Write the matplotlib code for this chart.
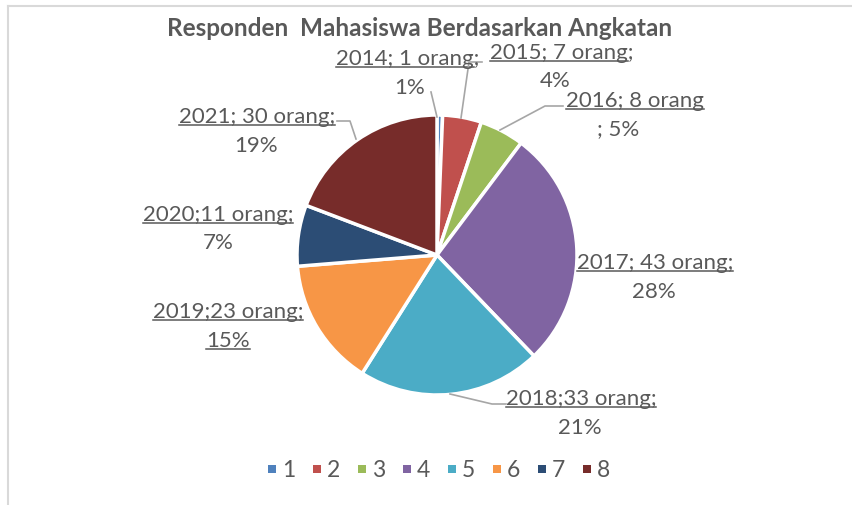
import matplotlib.pyplot as plt
from matplotlib.lines import Line2D
from matplotlib.patches import Rectangle

# data
years = ['2014', '2015', '2016', '2017', '2018', '2019', '2020', '2021']
counts = [1, 7, 8, 43, 33, 23, 11, 30]
legend_labels = ['1', '2', '3', '4', '5', '6', '7', '8']
colors = ['#4F81BD', '#C0504D', '#9BBB59', '#8064A2',
          '#4BACC6', '#F79646', '#2C4D75', '#772C2A']

W, H = 852, 506
txt_color = '#595959'
line_color = '#A6A6A6'
plt.rcParams['font.family'] = ['Lato', 'DejaVu Sans']

fig = plt.figure(figsize=(W / 100, H / 100), dpi=100)

# pie axes: centre (437, 256) px, radius 140 px
cx, cy, r = 437, 256, 140
ax = fig.add_axes([(cx - r) / W, (H - cy - r) / H, 2 * r / W, 2 * r / H])
ax.pie(counts, colors=colors, startangle=90, counterclock=False,
       wedgeprops=dict(edgecolor='white', linewidth=2.5))
ax.set_xlim(-1.0, 1.0)
ax.set_ylim(-1.0, 1.0)
ax.set_aspect('equal')
ax.axis('off')

def fx(x):
    return x / W

def fy(y):
    return 1 - y / H

renderer = fig.canvas.get_renderer()
fs = 16

def label(x, y, text, ul=None):
    t = fig.text(fx(x), fy(y), text, ha='center', va='baseline',
                 fontsize=fs, color=txt_color)
    if ul:
        bb = t.get_window_extent(renderer)
        tmp = fig.text(0, 0, ul, fontsize=fs)
        w = tmp.get_window_extent(renderer).width
        tmp.remove()
        uy = fy(y) - 3 / H
        fig.add_artist(Line2D([bb.x0 / W, (bb.x0 + w) / W], [uy, uy],
                              color=txt_color, lw=1.1))

total = sum(counts)
pct = [round(c * 100 / total) for c in counts]

# data labels (two lines each)
label(408, 65, f'{years[0]}; {counts[0]} orang;', f'{years[0]}; {counts[0]} orang')
label(410, 94, f'{pct[0]}%')
label(562, 59, f'{years[1]}; {counts[1]} orang;', f'{years[1]}; {counts[1]} orang')
label(555, 87, f'{pct[1]}%')
label(635, 107, f'{years[2]}; {counts[2]} orang', f'{years[2]}; {counts[2]} orang')
label(618, 135, f'; {pct[2]}%')
label(655, 269, f'{years[3]}; {counts[3]} orang;', f'{years[3]}; {counts[3]} orang;')
label(654, 298, f'{pct[3]}%')
label(581, 405, f'{years[4]};{counts[4]} orang;', f'{years[4]};{counts[4]} orang;')
label(580, 434, f'{pct[4]}%')
label(228, 318, f'{years[5]};{counts[5]} orang;', f'{years[5]};{counts[5]} orang;')
label(228, 347, f'{pct[5]}%', f'{pct[5]}%')
label(218, 221, f'{years[6]};{counts[6]} orang;', f'{years[6]};{counts[6]} orang;')
label(218, 249, f'{pct[6]}%')
label(257, 123, f'{years[7]}; {counts[7]} orang;', f'{years[7]}; {counts[7]} orang;')
label(256, 152, f'{pct[7]}%')

# leader lines (pixel coords)
leaders = [
    [(437, 118), (431, 93)],
    [(461, 119), (469, 63), (482, 63)],
    [(500, 131), (545, 107), (563, 107)],
    [(356, 140), (350, 122), (337, 122)],
    [(450, 395), (492, 405), (506, 405)],
]
for pts in leaders:
    fig.add_artist(Line2D([fx(p[0]) for p in pts], [fy(p[1]) for p in pts],
                          color=line_color, lw=1.2))

# title
fig.text(fx(420), fy(36), 'Responden  Mahasiswa Berdasarkan Angkatan',
         ha='center', va='baseline', fontsize=17.5, fontweight='bold',
         color=txt_color)

# legend: square marker + number, 45 px apart
for i, (lab, c) in enumerate(zip(legend_labels, colors)):
    x0 = 268 + 45 * i
    fig.add_artist(Rectangle((fx(x0), fy(474)), 8 / W, 8 / H,
                             facecolor=c, edgecolor='none'))
    fig.text(fx(x0 + 14), fy(477), lab, ha='left', va='baseline',
             fontsize=16.5, color=txt_color)

# chart border (top and left only visible)
fig.add_artist(Line2D([fx(8), fx(852)], [fy(7), fy(7)], color='#D9D9D9', lw=1.5))
fig.add_artist(Line2D([fx(8), fx(8)], [fy(7), fy(506)], color='#D9D9D9', lw=1.5))

fig.savefig('out.png', dpi=100)
